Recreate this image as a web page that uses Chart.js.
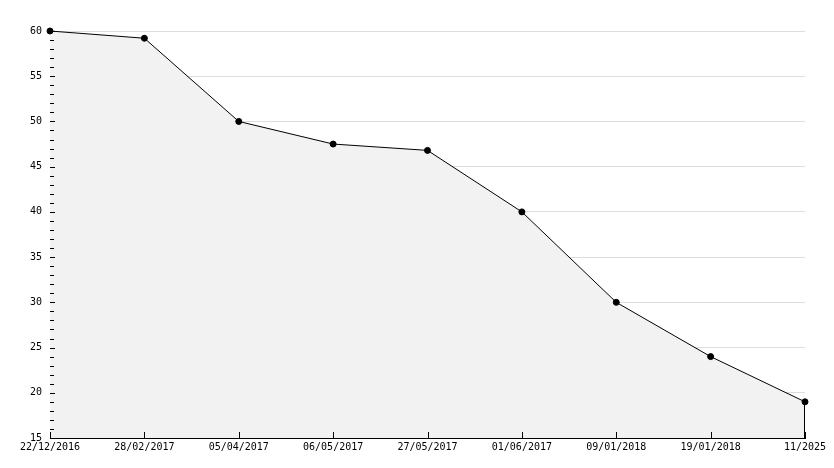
<!DOCTYPE html>
<html>
<head>
<meta charset="utf-8">
<script src="https://cdn.jsdelivr.net/npm/chart.js@4/dist/chart.umd.min.js"></script>
<style>
  html, body { margin: 0; padding: 0; background: #fff; }
</style>
</head>
<body>
<canvas id="burnChart" width="834" height="468"></canvas>
<script>
const dates = ['22/12/2016', '28/02/2017', '05/04/2017', '06/05/2017', '27/05/2017', '01/06/2017', '09/01/2018', '19/01/2018', '11/2025'];
const remaining = [60, 59.2, 50, 47.5, 46.8, 40, 30, 24, 19];
const yMin = 15;
const yMax = 60;

// tick marks are drawn inside the plot, like the original
const innerTicks = {
  id: 'innerTicks',
  afterDatasetsDraw(chart) {
    const { ctx, chartArea, scales: { x, y } } = chart;
    ctx.save();
    ctx.strokeStyle = '#000';
    ctx.lineWidth = 1;
    ctx.beginPath();
    y.ticks.forEach(t => {
      const py = Math.round(y.getPixelForValue(t.value)) + 0.5;
      const len = t.value % 5 === 0 ? 5 : 4;
      ctx.moveTo(chartArea.left, py);
      ctx.lineTo(chartArea.left + len, py);
    });
    x.ticks.forEach((t, i) => {
      const px = Math.round(x.getPixelForTick(i)) + 0.5;
      ctx.moveTo(px, chartArea.bottom);
      ctx.lineTo(px, chartArea.bottom - 6);
    });
    const pts = chart.getDatasetMeta(0).data;
    const last = pts[pts.length - 1];
    ctx.moveTo(Math.round(last.x) - 0.5, last.y);
    ctx.lineTo(Math.round(last.x) - 0.5, chartArea.bottom);
    ctx.stroke();
    ctx.restore();
  }
};

Chart.defaults.font.family = 'DejaVu Sans Mono';
Chart.defaults.font.size = 10;
Chart.defaults.color = '#000';

new Chart('burnChart', {
  type: 'line',
  data: {
    labels: dates,
    datasets: [{
      data: remaining,
      borderColor: '#000',
      borderWidth: 1,
      backgroundColor: '#f2f2f2',
      fill: 'start',
      tension: 0,
      pointRadius: 3,
      pointBackgroundColor: '#000',
      pointBorderColor: '#000',
      clip: false
    }]
  },
  options: {
    responsive: false,
    animation: false,
    layout: { padding: { top: 31, right: 29, left: 0, bottom: 0 } },
    plugins: { legend: { display: false }, tooltip: { enabled: false } },
    scales: {
      x: {
        offset: false,
        grid: { display: false, drawTicks: false },
        border: { color: '#000', width: 1 },
        ticks: { autoSkip: false, maxRotation: 0, padding: 3 },
        afterFit(s) { s.height = 30; }
      },
      y: {
        min: yMin,
        max: yMax,
        grid: {
          drawTicks: false,
          color: ctx => (ctx.tick && ctx.tick.value % 5 === 0) ? '#dddddd' : 'rgba(0,0,0,0)'
        },
        border: { color: '#000', width: 1 },
        ticks: {
          stepSize: 1,
          autoSkip: false,
          padding: 8,
          callback: v => (v % 5 === 0 ? v : '')
        },
        afterFit(s) { s.width = 50; }
      }
    }
  },
  plugins: [innerTicks]
});
</script>
</body>
</html>
